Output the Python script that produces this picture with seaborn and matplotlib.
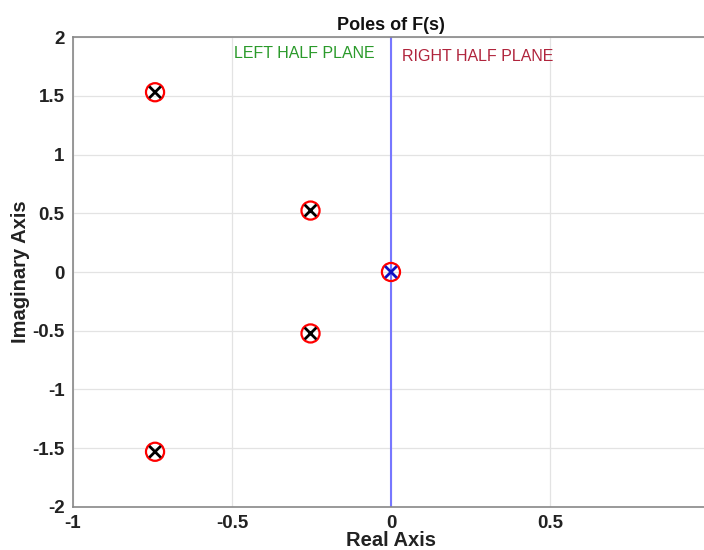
import numpy as np
import matplotlib
matplotlib.use("Agg")
import matplotlib.pyplot as plt
import seaborn as sns

# pole locations
pole_re = [-0.742, -0.742, -0.253, -0.253, 0.0]
pole_im = [1.53, -1.53, 0.523, -0.523, 0.0]
x_color = ['black', 'black', 'black', 'black', 'blue']

xticks = [-1, -0.5, 0, 0.5]
xtick_labels = ['-1', '-0.5', '0', '0.5']
yticks = [-2, -1.5, -1, -0.5, 0, 0.5, 1, 1.5, 2]
ytick_labels = ['-2', '-1.5', '-1', '-0.5', '0', '0.5', '1', '1.5', '2']

sns.set_style("whitegrid")
plt.rcParams['font.family'] = ['Liberation Sans', 'DejaVu Sans']

fig = plt.figure(figsize=(7.04, 5.5), dpi=100)
ax = fig.add_axes([0.1037, 0.0782, 0.9033, 0.8545])

ax.axvline(0, color='#7777ff', lw=1.5, zorder=2)

sns.scatterplot(x=pole_re, y=pole_im, ax=ax, s=170, marker='o',
                facecolor='none', edgecolor='red', linewidth=1.6, zorder=3)
sns.scatterplot(x=pole_re, y=pole_im, ax=ax, s=70, marker='x',
                hue=x_color, palette={'black': 'black', 'blue': '#1010c0'},
                linewidth=2, legend=False, zorder=4)

ax.text(-0.495, 1.82, 'LEFT HALF PLANE', color='#2a9a2a', fontsize=11.5)
ax.text(0.035, 1.80, 'RIGHT HALF PLANE', color='#b0243c', fontsize=11.5)

ax.set_xlim(-1, 1)
ax.set_ylim(-2, 2)
ax.set_xticks(xticks)
ax.set_xticklabels(xtick_labels)
ax.set_yticks(yticks)
ax.set_yticklabels(ytick_labels)
ax.tick_params(axis='both', direction='in', length=5, width=1, color='#666666',
               labelsize=13.5, labelcolor='#222222', pad=6)
for lab in ax.get_xticklabels() + ax.get_yticklabels():
    lab.set_fontweight('bold')

ax.grid(True, color='#e3e3e3', lw=0.9)
for sp in ax.spines.values():
    sp.set_color('#888888')
    sp.set_linewidth(1.2)
    sp.set_visible(True)

ax.set_title('Poles of F(s)', fontsize=13, fontweight='bold', color='#111111', pad=5)
ax.set_xlabel('Real Axis', fontsize=14.5, fontweight='bold', color='#222222', labelpad=-1)
ax.set_ylabel('Imaginary Axis', fontsize=14.5, fontweight='bold', color='#222222', labelpad=2)

fig.savefig('out.png', dpi=100)
